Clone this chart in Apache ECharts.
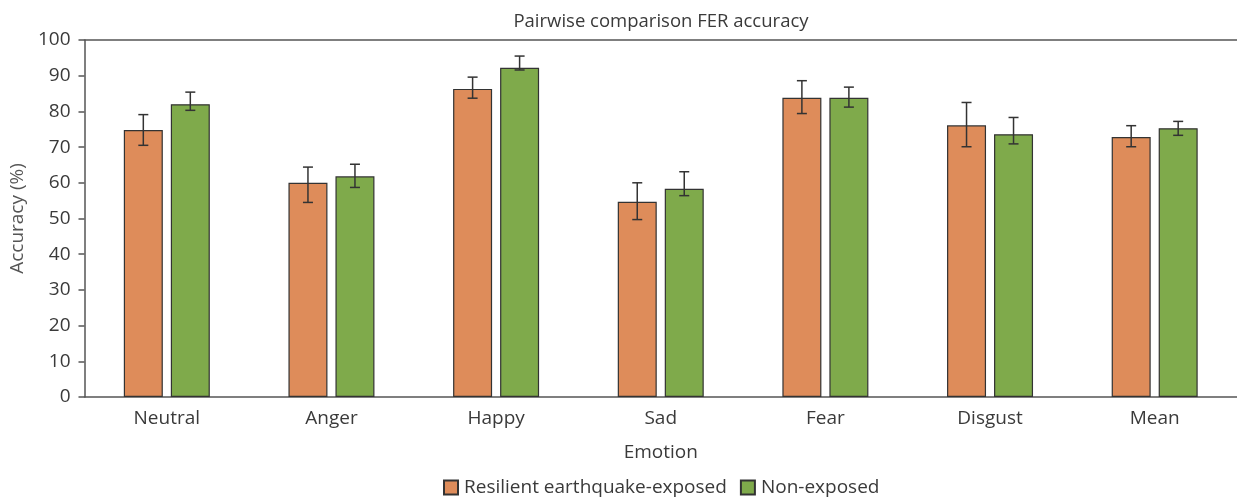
<!DOCTYPE html>
<html><head><meta charset="utf-8">
<script src="https://cdn.jsdelivr.net/npm/echarts@6/dist/echarts.min.js"></script>
<style>html,body{margin:0;padding:0;background:#fff}#c{width:1237px;height:499px}</style>
</head><body><div id="c"></div>
<script>
const categories = ['Neutral','Anger','Happy','Sad','Fear','Disgust','Mean'];
const seriesNames = ['Resilient earthquake-exposed','Non-exposed'];
const resilient = [74.8, 60.0, 86.3, 54.7, 83.8, 76.1, 72.8];
const resilientLow = [70.5, 54.5, 83.7, 49.7, 79.4, 70.1, 70.1];
const resilientHigh = [79.1, 64.4, 89.6, 60.0, 88.6, 82.5, 76.0];
const nonExposed = [82.0, 61.8, 92.2, 58.3, 83.8, 73.6, 75.3];
const nonExposedLow = [80.3, 58.7, 91.6, 56.4, 81.2, 70.9, 73.3];
const nonExposedHigh = [85.4, 65.2, 95.5, 63.1, 86.8, 78.3, 77.2];
const yTicks = [0,10,20,30,40,50,60,70,80,90,100];

const FONT = '"Open Sans", "Noto Sans", sans-serif';
const TXT = '#3a3a3a';
const BAR_W = 39, GAP = 8;
function errSeries(low, high, offset) {
  return {
    type: 'custom', z: 10, silent: true,
    data: categories.map((c, i) => [i, low[i], high[i]]),
    renderItem: function (params, api) {
      const i = api.value(0);
      const lo = api.coord([i, api.value(1)]);
      const hi = api.coord([i, api.value(2)]);
      const x = lo[0] + offset;
      const cap = 5;
      const st = {stroke: '#333', lineWidth: 1.5, fill: null};
      return {type: 'group', children: [
        {type: 'line', shape: {x1: x, y1: lo[1], x2: x, y2: hi[1]}, style: st},
        {type: 'line', shape: {x1: x - cap, y1: lo[1], x2: x + cap, y2: lo[1]}, style: st},
        {type: 'line', shape: {x1: x - cap, y1: hi[1], x2: x + cap, y2: hi[1]}, style: st}
      ]};
    }
  };
}
const chart = echarts.init(document.getElementById('c'));
chart.setOption({
  animation: false,
  textStyle: {fontFamily: FONT},
  title: {text: 'Pairwise comparison FER accuracy', left: 656, textAlign: 'center', top: 7,
    textStyle: {fontFamily: FONT, fontWeight: 'normal', fontSize: 18.5, color: TXT}},
  legend: {top: 473, left: 438, itemWidth: 14, itemHeight: 14, itemGap: 13,
    icon: 'rect', textStyle: {fontFamily: FONT, fontSize: 19, color: TXT, padding: [0,0,0,1]},
    data: seriesNames},
  grid: {left: 82, right: 0, top: 40, bottom: 102, containLabel: false},
  xAxis: [{
    type: 'category', data: categories, boundaryGap: true,
    name: 'Emotion', nameLocation: 'middle', nameGap: 46,
    nameTextStyle: {fontFamily: FONT, fontSize: 19, color: TXT},
    axisLine: {lineStyle: {color: '#555', width: 1.5}},
    axisTick: {alignWithLabel: true, length: 5, lineStyle: {color: '#555', width: 1.5}},
    axisLabel: {fontFamily: FONT, fontSize: 19, color: TXT, margin: 12}
  }, {
    type: 'category', data: categories, position: 'top',
    axisLine: {lineStyle: {color: '#555', width: 1.5}},
    axisTick: {show: false}, axisLabel: {show: false}
  }],
  yAxis: {
    type: 'value', min: 0, max: 100, interval: 10,
    name: 'Accuracy (%)', nameLocation: 'middle', nameGap: 52, nameRotate: 90,
    nameTextStyle: {fontFamily: FONT, fontSize: 19, color: '#555'},
    axisLine: {show: true, lineStyle: {color: '#555', width: 1.5}},
    axisTick: {show: true, length: 6, lineStyle: {color: '#555', width: 1.5}},
    axisLabel: {fontFamily: FONT, fontSize: 19, color: TXT, margin: 14,
      formatter: v => yTicks.includes(v) ? String(v) : ''},
    splitLine: {show: false}
  },
  series: [
    {name: seriesNames[0], type: 'bar', data: resilient, barWidth: BAR_W, barGap: (GAP / BAR_W * 100) + '%',
     itemStyle: {color: '#DE8C5A', borderColor: '#333', borderWidth: 1.2}},
    {name: seriesNames[1], type: 'bar', data: nonExposed, barWidth: BAR_W,
     itemStyle: {color: '#7FAA4B', borderColor: '#333', borderWidth: 1.2}},
    errSeries(resilientLow, resilientHigh, -(BAR_W + GAP) / 2),
    errSeries(nonExposedLow, nonExposedHigh, (BAR_W + GAP) / 2)
  ]
});
</script></body></html>
